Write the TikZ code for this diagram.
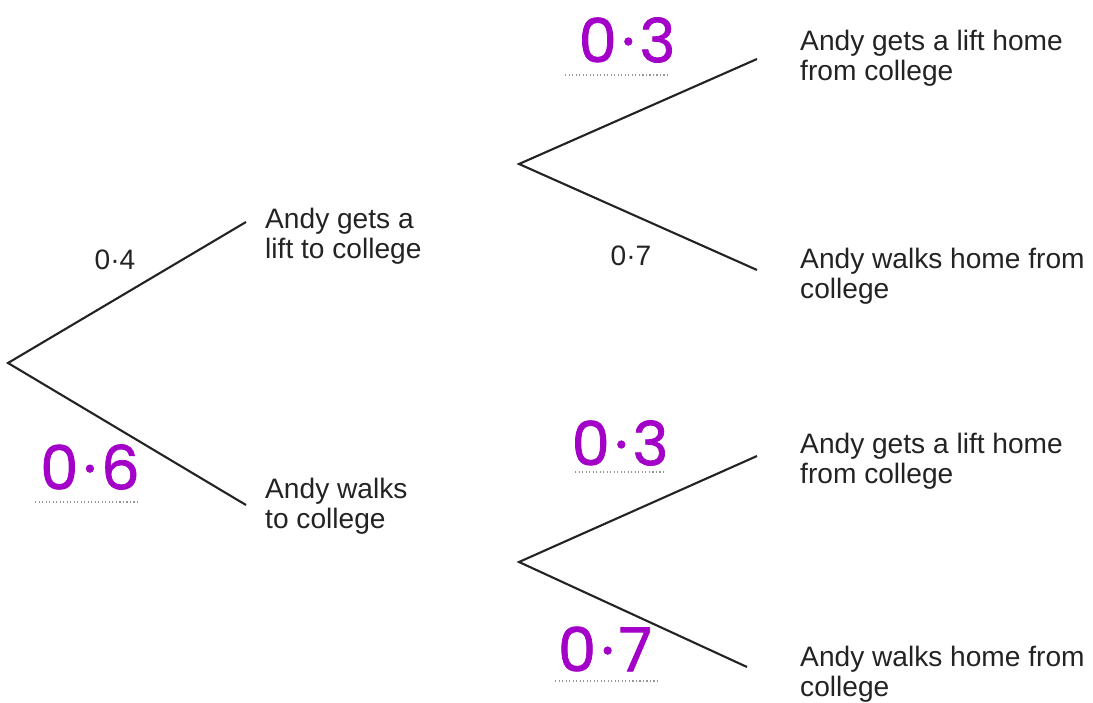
\documentclass[tikz,border=0pt]{standalone}
\usepackage{fontspec}
\setmainfont{Liberation Sans}
\newfontfamily\handfont{Poppins}[FakeBold=1.2]
\usetikzlibrary{positioning}
\definecolor{inkgray}{RGB}{35,35,35}
\definecolor{penpurple}{RGB}{163,0,200}
\definecolor{dotgray}{RGB}{150,150,150}

\begin{document}
\begin{tikzpicture}[x=0.3mm,y=-0.3mm,
    every node/.style={font=\fontsize{24}{25.8}\selectfont},
    branch/.style={line width=1.8pt,inkgray},
    outcome/.style={anchor=west,align=left,inner sep=0pt,text=inkgray},
    printprob/.style={inner sep=0pt,text=inkgray},
    handprob/.style={inner sep=0pt,text=penpurple,font=\handfont\fontsize{52}{52}\selectfont},
    answerline/.style={dotted,dotgray,line width=1pt}]

  \useasboundingbox (0,0) rectangle (1093,702);

  % ── forks and branch ends ───────────────────────────────────────
  \coordinate (root) at (8,363);
  \coordinate (liftEnd) at (246,222);
  \coordinate (walkEnd) at (246,505);
  \coordinate (liftFork) at (519,164);
  \coordinate (walkFork) at (519,562);
  \coordinate (LLend) at (757,59);
  \coordinate (LWend) at (757,270);
  \coordinate (WLend) at (757,456);
  \coordinate (WWend) at (747,667);

  % ── outcomes ───────────────────────────────────────────────────
  \node[outcome] (lift) at (265,236) {Andy gets a\\lift to college};
  \node[outcome] (walk) at (265,506) {Andy walks\\to college};

  \node[outcome] (LL) at (800,58) {Andy gets a lift home\\from college};
  \node[outcome] (LW) at (800,276) {Andy walks home from\\college};
  \node[outcome] (WL) at (800,461) {Andy gets a lift home\\from college};
  \node[outcome] (WW) at (800,674) {Andy walks home from\\college};

  % ── branches ───────────────────────────────────────────────────
  \draw[branch] (liftEnd) -- (root) -- (walkEnd);
  \draw[branch] (LLend) -- (liftFork) -- (LWend);
  \draw[branch] (WLend) -- (walkFork) -- (WWend);

  % printed probabilities
  \node[printprob] (pLift) at (115,260) {0·4};
  \node[printprob] (pLW) at (631,256) {0·7};

  % handwritten answers
  \node[handprob] (pWalk) at (90,467) {0\hspace{0.08em}·\hspace{0.08em}6};
  \node[handprob] (pLL) at (627,40) {0\hspace{0.08em}·\hspace{0.08em}3};
  \node[handprob] (pWL) at (620,443) {0\hspace{0.08em}·\hspace{0.08em}3};
  \node[handprob] (pWW) at (605,649) {0\hspace{0.08em}·\hspace{0.08em}7};

  % answer lines
  \draw[answerline] (35,502) -- (137,502);
  \draw[answerline] (565,75) -- (667,75);
  \draw[answerline] (575,472) -- (665,472);
  \draw[answerline] (555,681) -- (658,681);

\end{tikzpicture}
\end{document}
